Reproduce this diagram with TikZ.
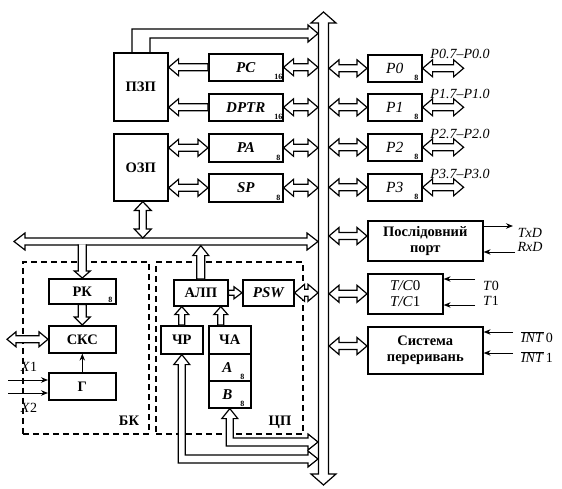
\documentclass[tikz,border=0pt]{standalone}
\usepackage{fontspec}
\setmainfont{Liberation Serif}
\usetikzlibrary{calc,arrows.meta}
\pgfkeys{/ha/sw/.store in=\haSW, /ha/aw/.store in=\haAW, /ha/ah/.store in=\haAH}
\newcommand\haset[1]{\pgfkeys{/ha/sw=3.5pt,/ha/aw=8.5pt,/ha/ah=10pt}\pgfkeys{/ha/.cd,#1}}
% double-headed hollow arrow
\newcommand\DA[3][]{\begingroup\haset{#1}%
  \draw[hollow] (#2) -- ($(#2)!\haAH!(#3)!\haAW!90:(#3)$) -- ($(#2)!\haAH!(#3)!\haSW!90:(#3)$)
   -- ($(#3)!\haAH!(#2)!\haSW!-90:(#2)$) -- ($(#3)!\haAH!(#2)!\haAW!-90:(#2)$) -- (#3)
   -- ($(#3)!\haAH!(#2)!\haAW!90:(#2)$) -- ($(#3)!\haAH!(#2)!\haSW!90:(#2)$)
   -- ($(#2)!\haAH!(#3)!\haSW!-90:(#3)$) -- ($(#2)!\haAH!(#3)!\haAW!-90:(#3)$) -- cycle;\endgroup}
% single-headed hollow arrow (head at #3)
\newcommand\SA[3][]{\begingroup\haset{#1}%
  \draw[hollow] ($(#2)!\haSW!90:(#3)$) -- ($(#3)!\haAH!(#2)!\haSW!-90:(#2)$) -- ($(#3)!\haAH!(#2)!\haAW!-90:(#2)$)
   -- (#3) -- ($(#3)!\haAH!(#2)!\haAW!90:(#2)$) -- ($(#3)!\haAH!(#2)!\haSW!90:(#2)$) -- ($(#2)!\haSW!-90:(#3)$) -- cycle;\endgroup}
% single-headed, open tail
\newcommand\SAo[3][]{\begingroup\haset{#1}%
  \draw[hollow] ($(#2)!\haSW!90:(#3)$) -- ($(#3)!\haAH!(#2)!\haSW!-90:(#2)$) -- ($(#3)!\haAH!(#2)!\haAW!-90:(#2)$)
   -- (#3) -- ($(#3)!\haAH!(#2)!\haAW!90:(#2)$) -- ($(#3)!\haAH!(#2)!\haSW!90:(#2)$) -- ($(#2)!\haSW!-90:(#3)$);\endgroup}
% bent double arrow: up-head at #1, right-head at #2
\newcommand\bentarrow[2]{\draw[hollow] let \p1=(#1), \p2=(#2) in (\x1,\y1) -- (\x1+8pt,\y1-10pt) -- (\x1+3.5pt,\y1-10pt)
  -- (\x1+3.5pt,\y2+4pt) -- (\x2-10pt,\y2+4pt) -- (\x2-10pt,\y2+8pt) -- (\x2,\y2) -- (\x2-10pt,\y2-8pt)
  -- (\x2-10pt,\y2-4pt) -- (\x1-3.5pt,\y2-4pt) -- (\x1-3.5pt,\y1-10pt) -- (\x1-8pt,\y1-10pt) -- cycle;}
\tikzset{
  hollow/.style={draw=black, line width=1.2pt, fill=white, line join=miter},
  box/.style={draw=black, line width=1.6pt, fill=white, inner sep=0pt, anchor=north west,
    font=\fontsize{14.5}{16}\selectfont\bfseries, align=center},
  ibox/.style={box, font=\fontsize{15}{17}\selectfont\bfseries\itshape},
  pbox/.style={box, font=\fontsize{15.5}{17}\selectfont\itshape},
  dbox/.style={draw=black, line width=1.5pt, dash pattern=on 6pt off 4pt, inner sep=0pt, anchor=north west},
  sub/.style={inner sep=1pt, anchor=south east, font=\fontsize{8}{8}\selectfont\bfseries},
  lab/.style={inner sep=0pt, font=\fontsize{14}{16}\selectfont},
  blab/.style={inner sep=0pt, font=\fontsize{14.5}{16}\selectfont\bfseries},
  thinarr/.style={line width=1pt, -{Stealth[length=7pt,width=5.5pt]}}
}
\begin{document}
\begin{tikzpicture}[x=1pt,y=-1pt]
\useasboundingbox (0,0) rectangle (562,489);
\fill[white] (0,0) rectangle (562,489);
% dashed blocks
\node[dbox, minimum width=126pt, minimum height=172pt] (bk) at (22,261) {};
\node[dbox, minimum width=147pt, minimum height=172pt] (cp) at (155,261) {};
% main vertical bus
\coordinate (busT) at (323.5,12);
\coordinate (busB) at (323.5,485);
\DA[sw=5pt,aw=12.5pt,ah=11pt]{busT}{busB}
\coordinate (bl) at (318,0);
\coordinate (br) at (329,0);
% boxes
\node[box, minimum width=54pt, minimum height=68pt] (pzp) at (113,52) {ПЗП};
\node[box, minimum width=54pt, minimum height=67pt] (ozp) at (113,133) {ОЗП};
\node[ibox, minimum width=74pt, minimum height=27pt] (pc) at (208,53) {PC};
\node[ibox, minimum width=74pt, minimum height=27pt] (dptr) at (208,93) {DPTR};
\node[ibox, minimum width=74pt, minimum height=28pt] (pa) at (208,133) {PA};
\node[ibox, minimum width=74pt, minimum height=28pt] (sp) at (208,173) {SP};
\node[sub] (pcs) at ([xshift=0pt,yshift=1pt]pc.south east) {16};
\node[sub] (dptrs) at ([xshift=0pt,yshift=1pt]dptr.south east) {16};
\node[sub] (pas) at ([xshift=-2pt,yshift=1pt]pa.south east) {8};
\node[sub] (sps) at ([xshift=-2pt,yshift=1pt]sp.south east) {8};
\node[pbox, minimum width=54pt, minimum height=27pt] (p0) at (367,54) {P0};
\node[pbox, minimum width=54pt, minimum height=27pt] (p1) at (367,93) {P1};
\node[pbox, minimum width=54pt, minimum height=27pt] (p2) at (367,133) {P2};
\node[pbox, minimum width=54pt, minimum height=27pt] (p3) at (367,173) {P3};
\node[sub] (p0s) at ([xshift=-3pt,yshift=1pt]p0.south east) {8};
\node[sub] (p1s) at ([xshift=-3pt,yshift=1pt]p1.south east) {8};
\node[sub] (p2s) at ([xshift=-3pt,yshift=1pt]p2.south east) {8};
\node[sub] (p3s) at ([xshift=-3pt,yshift=1pt]p3.south east) {8};
\node[box, minimum width=115pt, minimum height=40pt] (ser) at (367,220) {Послідовний\\порт};
\node[box, minimum width=75pt, minimum height=40pt, font=\fontsize{15}{16}\selectfont] (tc) at (367,273) {\textit{T/C}0\\\textit{T/C}1};
\node[box, minimum width=115pt, minimum height=47pt] (int) at (367,326) {Система\\переривань};
\node[box, minimum width=67pt, minimum height=25pt] (rk) at (48,278) {РК};
\node[sub] (rks) at ([xshift=-3pt,yshift=1pt]rk.south east) {8};
\node[box, minimum width=67pt, minimum height=27pt] (sks) at (48,325) {СКС};
\node[box, minimum width=67pt, minimum height=27pt] (g) at (48,372) {Г};
\node[box, minimum width=54pt, minimum height=26pt] (alu) at (173,279) {АЛП};
\node[ibox, minimum width=51pt, minimum height=26pt] (psw) at (242,279) {PSW};
\node[box, minimum width=42pt, minimum height=28pt] (chr) at (160,325) {ЧР};
\node[box, minimum width=42pt, minimum height=28pt] (cha) at (208,325) {ЧА};
\node[ibox, minimum width=42pt, minimum height=27pt] (ra) at (208,353) {A\hspace{5pt}};
\node[ibox, minimum width=42pt, minimum height=27pt] (rb) at (208,380) {B\hspace{5pt}};
\node[sub] (ras) at ([xshift=-6pt,yshift=1pt]ra.south east) {8};
\node[sub] (rbs) at ([xshift=-6pt,yshift=1pt]rb.south east) {8};
% labels of blocks
\node[blab] (bkl) at (129,421) {БК};
\node[blab] (cpl) at (280,422) {ЦП};
% ROM top bent bus
\coordinate (pzpE) at (318,33.5);
\draw[hollow, fill=none] let \p1=(pzp.north west), \p2=(pzpE) in (\x1+19pt,\y1) -- (\x1+19pt,\y2+4.5pt)
  -- (\x2-10pt,\y2+4.5pt) -- (\x2-10pt,\y2+8.5pt) -- (\x2,\y2) -- (\x2-10pt,\y2-8.5pt)
  -- (\x2-10pt,\y2-4.5pt) -- (\x1+37pt,\y2-4.5pt) -- (\x1+37pt,\y1);
% left column connectors
\SA{pc.west}{pc.west -| pzp.east}
\SA{dptr.west}{dptr.west -| pzp.east}
\DA{pc.east}{pc.east -| bl}
\DA{dptr.east}{dptr.east -| bl}
\DA{ozp.east |- pa.west}{pa.west}
\DA{pa.east}{pa.east -| bl}
\DA{ozp.east |- sp.west}{sp.west}
\DA{sp.east}{sp.east -| bl}
% horizontal bus
\coordinate (hbL) at (14,241.5);
\coordinate (hbR) at (318,241.5);
\DA[ah=11pt]{hbL}{hbR}
\coordinate (hbTop) at (0,238);
\coordinate (hbBot) at (0,244.3);
\coordinate (hbTip) at (0,245.6);
\coordinate (ozpB) at ([xshift=2pt]ozp.south);
\DA[ah=9pt]{ozpB}{ozpB |- hbTop}
\SAo[sw=4pt,aw=8pt,ah=7pt]{rk.north |- hbBot}{rk.north}
\SA[sw=4pt,aw=8pt,ah=8pt]{rk.south}{sks.north}
\coordinate (sksL) at ([xshift=-41pt]sks.west);
\DA[aw=7.5pt,ah=9pt]{sksL}{sks.west}
\draw[thinarr] (g.north) -- (sks.south);
\coordinate (x1s) at (8,380);
\coordinate (x2s) at (8,393);
\draw[thinarr] (x1s) -- (x1s -| g.west);
\draw[thinarr] (x2s) -- (x2s -| g.west);
\node[lab] (x1l) at (29,367) {\textit{X}1};
\node[lab] (x2l) at (29,408) {\textit{X}2};
% CPU
\SA[sw=4pt,aw=8pt,ah=10pt]{alu.north}{alu.north |- hbTip}
\SA[sw=2.5pt,aw=6pt,ah=8pt]{alu.east}{psw.west}
\DA{psw.east}{psw.east -| bl}
\SA[sw=3pt,aw=7pt,ah=8pt]{chr.north}{chr.north |- alu.south}
\coordinate (chaT) at ([xshift=-9pt]cha.north);
\SA[sw=3pt,aw=7pt,ah=8pt]{chaT}{chaT |- alu.south}
\coordinate (bE) at (318,442);
\coordinate (chrE) at (318,459);
\bentarrow{rb.south}{bE}
\bentarrow{chr.south}{chrE}
% right column
\DA{br |- p0.west}{p0.west}
\DA{br |- p1.west}{p1.west}
\DA{br |- p2.west}{p2.west}
\DA{br |- p3.west}{p3.west}
\coordinate (p0o) at ([xshift=41pt]p0.east);
\coordinate (p1o) at ([xshift=41pt]p1.east);
\coordinate (p2o) at ([xshift=41pt]p2.east);
\coordinate (p3o) at ([xshift=41pt]p3.east);
\DA{p0.east}{p0o}
\DA{p1.east}{p1o}
\DA{p2.east}{p2o}
\DA{p3.east}{p3o}
\node[lab] (p0l) at (460,54) {\textit{P0.7--P0.0}};
\node[lab] (p1l) at (460,94) {\textit{P1.7--P1.0}};
\node[lab] (p2l) at (460,134) {\textit{P2.7--P2.0}};
\node[lab] (p3l) at (460,174) {\textit{P3.7--P3.0}};
\coordinate (serA) at (367,236);
\DA{br |- serA}{serA}
\DA{br |- tc.west}{tc.west}
\coordinate (intA) at (367,346);
\DA{br |- intA}{intA}
\coordinate (txS) at (482,226);
\coordinate (txE) at (513,226);
\draw[thinarr] (txS) -- (txE);
\coordinate (rxS) at (515,252);
\draw[thinarr] (rxS) -- (rxS -| ser.east);
\coordinate (t0S) at (475,279);
\coordinate (t1S) at (475,305);
\draw[thinarr] (t0S) -- (t0S -| tc.east);
\draw[thinarr] (t1S) -- (t1S -| tc.east);
\coordinate (i0S) at (513,332);
\coordinate (i1S) at (513,353);
\draw[thinarr] (i0S) -- (i0S -| int.east);
\draw[thinarr] (i1S) -- (i1S -| int.east);
\node[lab] (txl) at (530,233) {\textit{TxD}};
\node[lab] (rxl) at (530,247) {\textit{RxD}};
\node[lab] (t0l) at (491,286) {\textit{T}0};
\node[lab] (t1l) at (491,301) {\textit{T}1};
\node[lab] (i0l) at (537,337) {$\overline{\hbox{\textit{INT}}}$\,0};
\node[lab] (i1l) at (537,357) {$\overline{\hbox{\textit{INT}}}$\,1};
\end{tikzpicture}
\end{document}
